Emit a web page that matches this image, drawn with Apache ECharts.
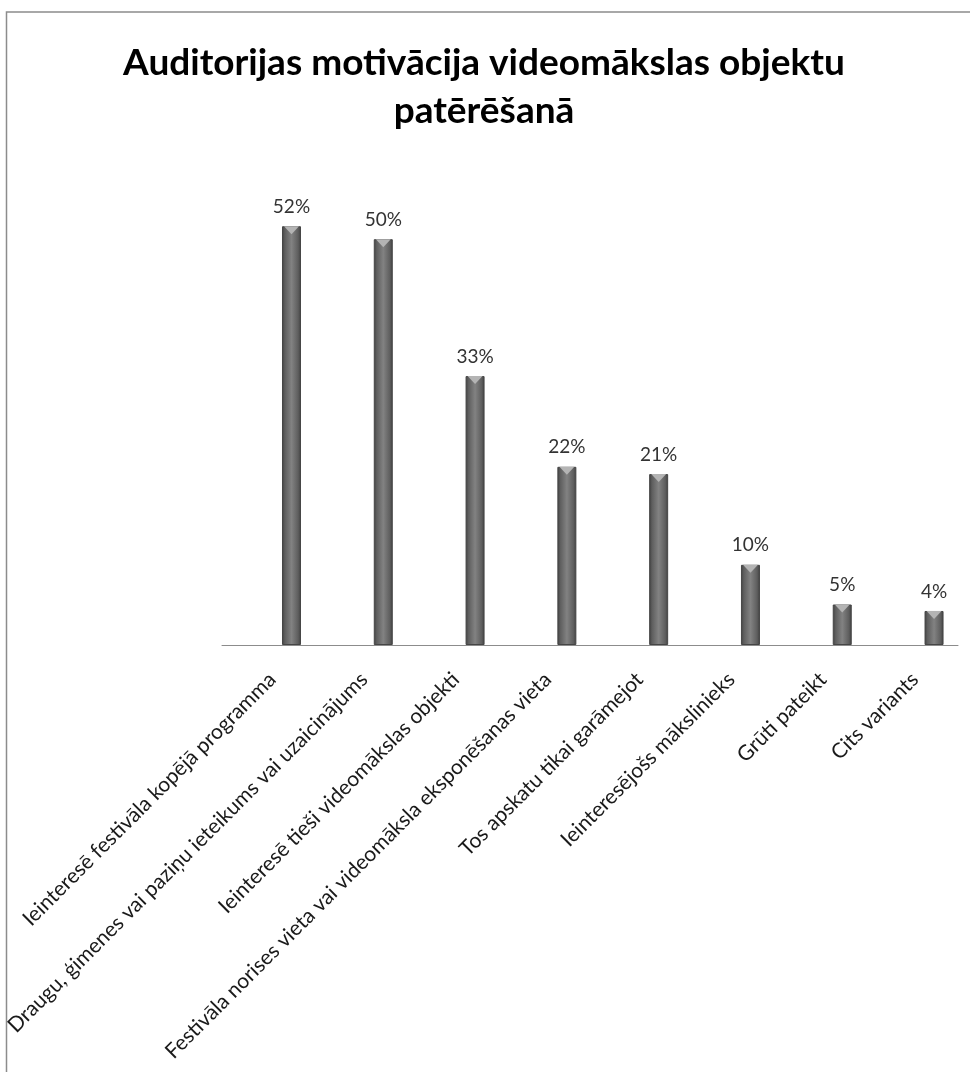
<!DOCTYPE html>
<html>
<head>
<meta charset="utf-8">
<script src="https://cdn.jsdelivr.net/npm/echarts@6/dist/echarts.min.js"></script>
<style>
  html, body { margin: 0; padding: 0; background: #fff; }
  #chart { width: 970px; height: 1072px; }
</style>
</head>
<body>
<div id="chart"></div>
<script>
let chart = echarts.init(document.getElementById('chart'));

// dati
const titleText = 'Auditorijas motivācija videomākslas objektu\npatērēšanā';
const categories = [
    'Ieinteresē festivāla kopējā programma',
    'Draugu, ģimenes vai paziņu ieteikums vai uzaicinājums',
    'Ieinteresē tieši videomākslas objekti',
    'Festivāla norises vieta vai videomāksla eksponēšanas vieta',
    'Tos apskatu tikai garāmejot',
    'Ieinteresējošs mākslinieks',
    'Grūti pateikt',
    'Cits variants'
];
const values = [51.7, 50.1, 33.2, 22.0, 21.1, 9.9, 5.0, 4.2];
const labelTicks = [0, 1, 2, 3, 4, 5, 6, 7];

const fontName = 'Lato';

let barData = values.map((v, i) => [i, v]);

let option = {
    backgroundColor: '#fff',
    animation: false,
    title: {
        text: titleText,
        left: 479,
        top: 34,
        textAlign: 'center',
        textStyle: {
            fontFamily: fontName,
            fontWeight: 'bold',
            fontSize: 37,
            lineHeight: 48,
            color: '#000'
        }
    },
    // rāmis ap diagrammu
    graphic: [
        {
            type: 'rect',
            shape: {x: 6.5, y: 12, width: 1100, height: 1200},
            style: {fill: 'none', stroke: '#8c8c8c', lineWidth: 1.5},
            silent: true
        }
    ],
    grid: {
        left: 222,
        right: 12,
        top: 159,
        bottom: 427
    },
    xAxis: {
        type: 'value',
        min: -0.757,
        max: 7.261,
        splitLine: {show: false},
        axisTick: {show: false},
        axisLine: {show: true, lineStyle: {color: '#8c8c8c', width: 1}},
        axisLabel: {
            customValues: labelTicks,
            rotate: 45,
            margin: 12,
            padding: [0, 27, 0, 0],
            fontFamily: fontName,
            fontSize: 21,
            color: '#1a1a1a',
            formatter: function (v) {
                return categories[Math.round(v)];
            }
        }
    },
    yAxis: {
        type: 'value',
        min: 0,
        max: 60,
        show: false
    },
    series: [
        {
            type: 'bar',
            data: barData,
            barWidth: 19,
            itemStyle: {
                color: new echarts.graphic.LinearGradient(0, 0, 1, 0, [
                    {offset: 0, color: '#3f3f3f'},
                    {offset: 0.15, color: '#5e5e5e'},
                    {offset: 0.5, color: '#828282'},
                    {offset: 0.85, color: '#5e5e5e'},
                    {offset: 1, color: '#3f3f3f'}
                ]),
                borderColor: '#454545',
                borderWidth: 1
            },
            label: {
                show: true,
                position: 'top',
                distance: 10,
                fontFamily: fontName,
                fontSize: 19,
                color: '#333',
                formatter: function (p) {
                    return Math.round(p.value[1]) + '%';
                }
            }
        },
        {
            type: 'pictorialBar',
            data: barData,
            symbol: 'path://M0,0 L10,0 L5,5 Z',
            symbolSize: [15, 8],
            symbolPosition: 'end',
            symbolOffset: [0, 0],
            z: 5,
            itemStyle: {color: '#b4b4b4'},
            silent: true
        }
    ]
};

chart.setOption(option);
</script>
</body>
</html>
